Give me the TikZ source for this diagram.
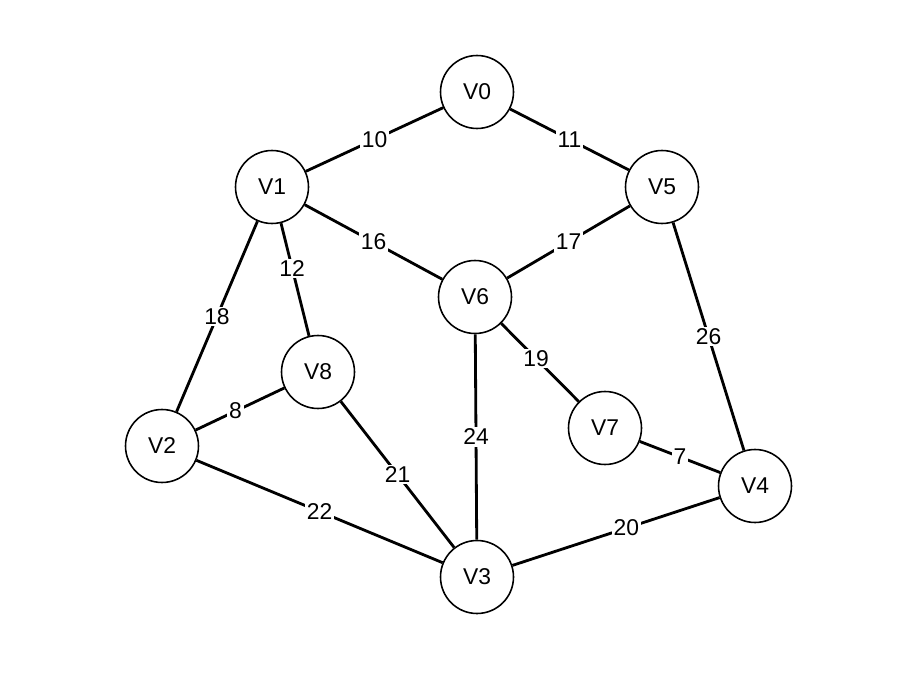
\documentclass[tikz,border=0pt]{standalone}
\usepackage{fontspec}
\setmainfont{Liberation Sans}
\usetikzlibrary{positioning}

\begin{document}
\begin{tikzpicture}[x=0.02cm,y=-0.02cm,
  vertex/.style={circle, draw, line width=0.9pt, minimum size=1.46cm, inner sep=0pt, font=\fontsize{13}{15}\selectfont},
  edge/.style={line width=1.6pt},
  weight/.style={fill=white, inner sep=1pt, font=\fontsize{13}{15}\selectfont}]
\useasboundingbox (0,0) rectangle (916,682);

% Vertices
\node[vertex] (V0) at (477,92) {V0};
\node[vertex] (V1) at (272,187) {V1};
\node[vertex] (V5) at (662,187) {V5};
\node[vertex] (V6) at (475,297) {V6};
\node[vertex] (V8) at (318,372) {V8};
\node[vertex] (V2) at (162,446) {V2};
\node[vertex] (V7) at (605,428) {V7};
\node[vertex] (V4) at (755,486) {V4};
\node[vertex] (V3) at (477,577) {V3};

% Weighted edges
\draw[edge] (V1) -- node[weight] {10} (V0);
\draw[edge] (V0) -- node[weight] {11} (V5);
\draw[edge] (V1) -- node[weight] {16} (V6);
\draw[edge] (V5) -- node[weight] {17} (V6);
\draw[edge] (V1) -- node[weight, pos=0.4] {12} (V8);
\draw[edge] (V1) -- node[weight] {18} (V2);
\draw[edge] (V2) -- node[weight, pos=0.45] {8} (V8);
\draw[edge] (V6) -- node[weight, pos=0.45] {19} (V7);
\draw[edge] (V6) -- node[weight] {24} (V3);
\draw[edge] (V5) -- node[weight] {26} (V4);
\draw[edge] (V8) -- node[weight] {21} (V3);
\draw[edge] (V2) -- node[weight] {22} (V3);
\draw[edge] (V7) -- node[weight] {7} (V4);
\draw[edge] (V3) -- node[weight, pos=0.55] {20} (V4);
\end{tikzpicture}
\end{document}
